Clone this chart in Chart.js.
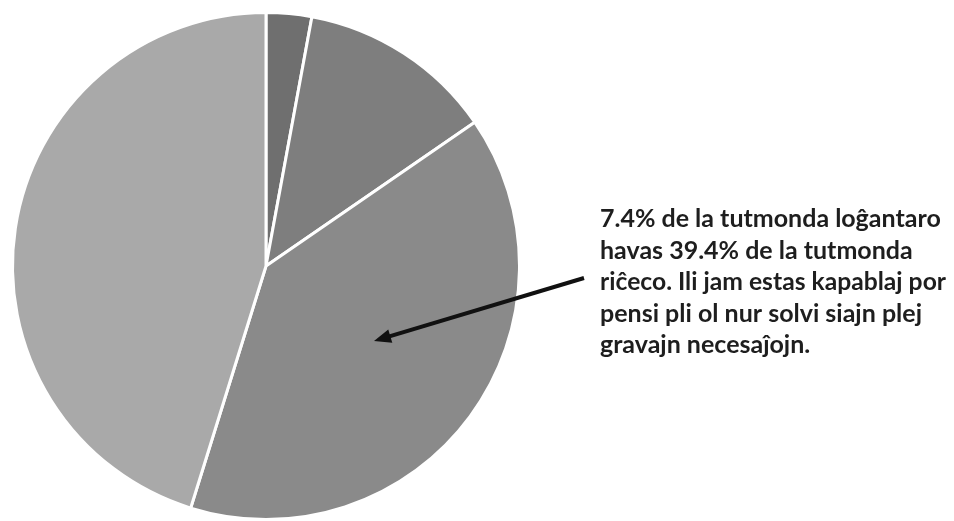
<!DOCTYPE html>
<html>
<head>
<meta charset="utf-8">
<script src="https://cdn.jsdelivr.net/npm/chart.js@4"></script>
<style>
  html, body { margin: 0; padding: 0; background: #fff; }
  #wrap { width: 954px; height: 521px; }
</style>
</head>
<body>
<div id="wrap"><canvas id="pie"></canvas></div>
<script>
// wealth share per group (%), clockwise from 12 o'clock
const groups = ['< 10k', '10k - 100k', '100k - 1M', '> 1M'];
const wealthShare = [2.9, 12.5, 39.4, 45.2];
const sliceColors = ['#6f6f6f', '#7e7e7e', '#8a8a8a', '#a9a9a9'];

const noteLines = [
  '7.4% de la tutmonda loĝantaro',
  'havas 39.4% de la tutmonda',
  'riĉeco. Ili jam estas kapablaj por',
  'pensi pli ol nur solvi siajn plej',
  'gravajn necesaĵojn.'
];

// arrow + note drawn on top of the pie
const notePlugin = {
  id: 'note',
  afterDraw(chart) {
    const ctx = chart.ctx;
    ctx.save();
    ctx.strokeStyle = '#111';
    ctx.fillStyle = '#111';
    ctx.lineWidth = 4;
    const x1 = 584, y1 = 278, x2 = 374, y2 = 341;
    const ang = Math.atan2(y2 - y1, x2 - x1);
    const c = Math.cos(ang), s = Math.sin(ang);
    ctx.beginPath();
    ctx.moveTo(x1, y1);
    ctx.lineTo(x2 - 10 * c, y2 - 10 * s);
    ctx.stroke();
    ctx.beginPath();
    ctx.moveTo(x2, y2);
    ctx.lineTo(x2 - 17 * c + 7 * s, y2 - 17 * s - 7 * c);
    ctx.lineTo(x2 - 17 * c - 7 * s, y2 - 17 * s + 7 * c);
    ctx.closePath();
    ctx.fill();

    ctx.fillStyle = '#1e1e1e';
    ctx.font = 'bold 25px Lato';
    ctx.textBaseline = 'middle';
    noteLines.forEach((t, i) => {
      ctx.fillText(t, 600, 219 + i * 31.5, 346);
    });
    ctx.restore();
  }
};

new Chart(document.getElementById('pie'), {
  type: 'pie',
  data: {
    labels: groups,
    datasets: [{
      data: wealthShare,
      backgroundColor: sliceColors,
      borderColor: '#fff',
      borderWidth: 3
    }]
  },
  options: {
    responsive: true,
    maintainAspectRatio: false,
    animation: false,
    layout: { padding: { left: 10, right: 432, top: 11, bottom: 0 } },
    plugins: {
      legend: { display: false },
      tooltip: { enabled: false }
    }
  },
  plugins: [notePlugin]
});
</script>
</body>
</html>
